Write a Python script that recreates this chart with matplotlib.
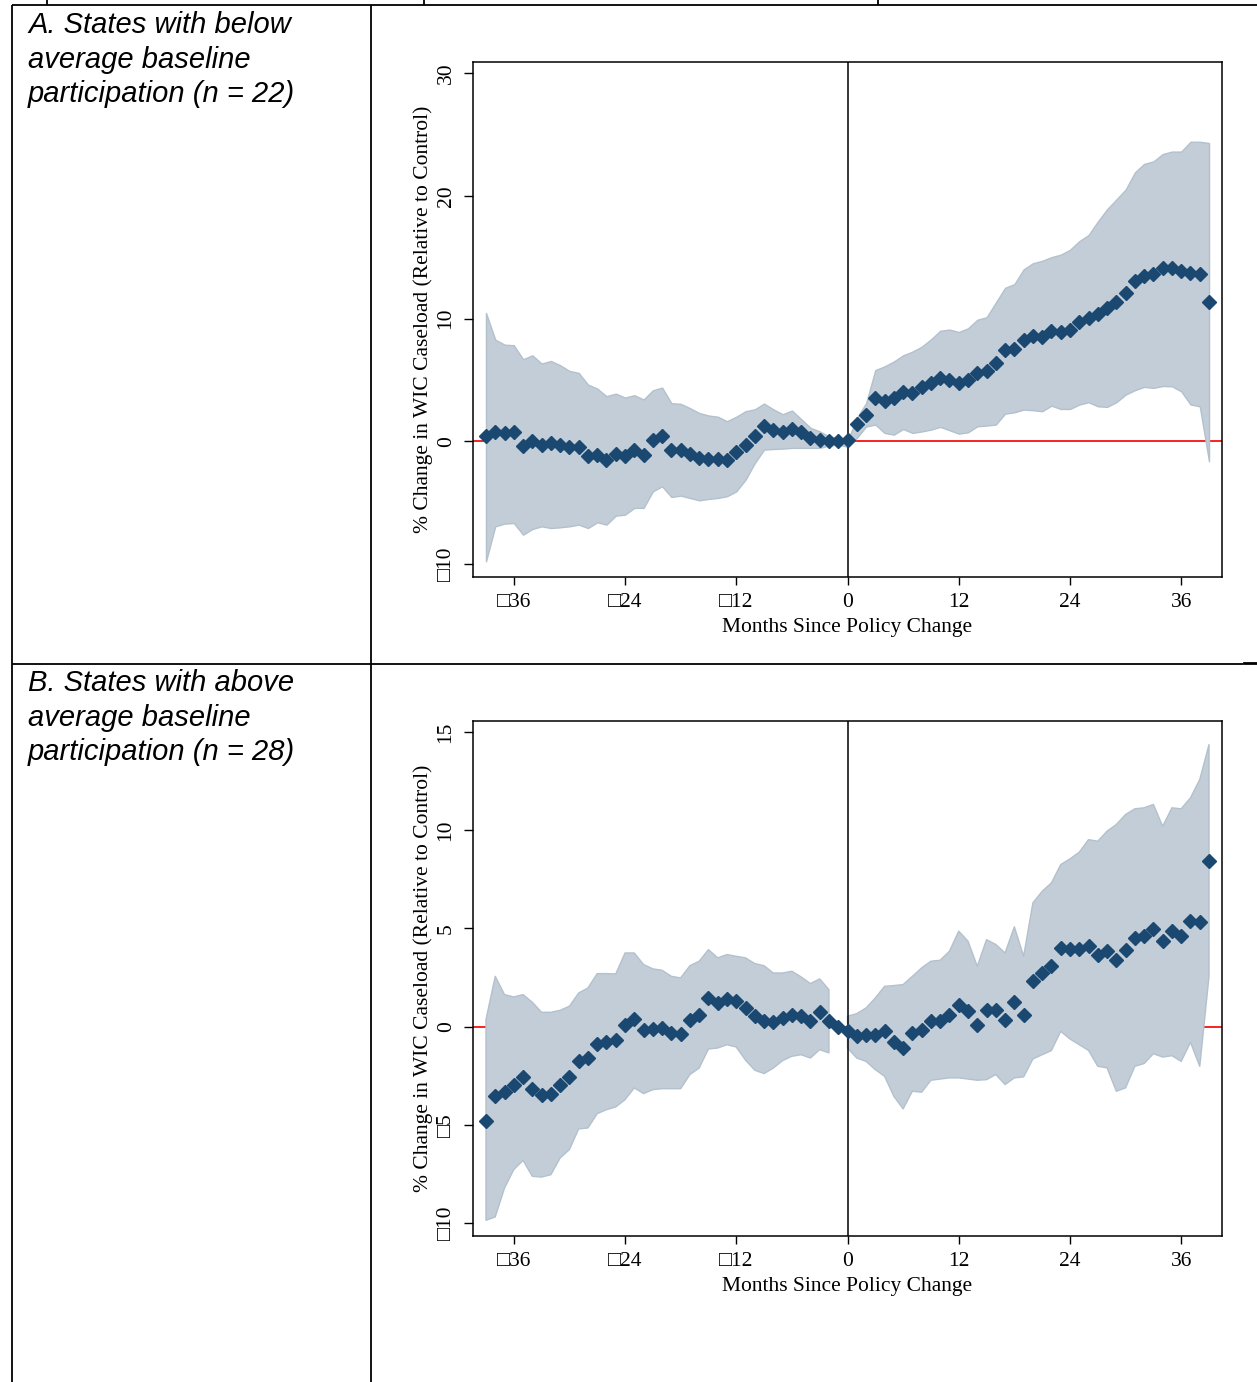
import numpy as np
import matplotlib
matplotlib.use("Agg")
import matplotlib.pyplot as plt

# months relative to the policy change
months = np.arange(-39, 40)

# Panel A: below average baseline participation (n = 22)
a_est = [0.41, 0.73, 0.68, 0.73, -0.41, 0.0, -0.27, -0.14, -0.33, -0.49,
         -0.49, -1.17, -1.09, -1.55, -1.0, -1.17, -0.73, -1.09, 0.08, 0.46,
         -0.73, -0.68, -1.0, -1.36, -1.41, -1.41, -1.49, -0.90, -0.27, 0.41,
         1.28, 0.95, 0.73, 1.0, 0.73, 0.27, 0.14, 0.05, 0.05, 0.14,
         1.44, 2.17, 3.53, 3.31, 3.53, 4.0, 3.94, 4.43, 4.76, 5.16,
         4.97, 4.76, 5.03, 5.57, 5.71, 6.39, 7.42, 7.53, 8.29, 8.56,
         8.5, 8.97, 8.89, 9.05, 9.7, 10.05, 10.33, 10.87, 11.33, 12.09,
         13.04, 13.5, 13.59, 14.13, 14.13, 13.86, 13.72, 13.59, 11.36]
a_hi = [10.45, 8.28, 7.87, 7.82, 6.68, 7.0, 6.33, 6.54, 6.19, 5.73,
        5.57, 4.62, 4.29, 3.67, 3.88, 3.56, 3.75, 3.4, 4.15, 4.37,
        3.1, 3.05, 2.7, 2.3, 2.1, 2.0, 1.63, 2.0, 2.45, 2.6,
        3.07, 2.6, 2.2, 2.5, 1.8, 1.1, 0.8, 0.4, 0.27, 0.0,
        1.9, 3.1, 5.8, 6.1, 6.5, 7.0, 7.3, 7.7, 8.3, 9.0,
        9.1, 8.9, 9.2, 9.9, 10.1, 11.3, 12.5, 12.8, 14.0, 14.5,
        14.7, 15.0, 15.2, 15.6, 16.3, 16.8, 17.9, 18.9, 19.7, 20.5,
        21.9, 22.6, 22.8, 23.4, 23.6, 23.6, 24.4, 24.4, 24.3]
a_lo = [-9.78, -6.93, -6.71, -6.66, -7.61, -7.15, -6.93, -7.07, -7.01, -6.93,
        -6.79, -7.07, -6.6, -6.79, -6.06, -5.98, -5.43, -5.43, -4.08, -3.67,
        -4.54, -4.43, -4.62, -4.81, -4.7, -4.62, -4.48, -4.08, -3.13, -1.77,
        -0.68, -0.63, -0.6, -0.54, -0.54, -0.54, -0.54, -0.35, -0.27, -0.45,
        0.27, 1.2, 1.36, 0.68, 0.54, 1.0, 0.68, 0.8, 0.95, 1.17,
        0.9, 0.62, 0.73, 1.22, 1.28, 1.36, 2.25, 2.36, 2.58, 2.53,
        2.45, 2.9, 2.63, 2.63, 2.99, 3.18, 2.85, 2.8, 3.18, 3.8,
        4.16, 4.43, 4.35, 4.5, 4.48, 4.07, 3.0, 2.85, -1.63]

# Panel B: above average baseline participation (n = 28)
b_est = [-4.82, -3.55, -3.34, -2.95, -2.58, -3.17, -3.46, -3.43, -2.95, -2.58,
         -1.77, -1.6, -0.87, -0.78, -0.7, 0.1, 0.39, -0.15, -0.1, -0.07,
         -0.32, -0.37, 0.36, 0.58, 1.46, 1.2, 1.41, 1.29, 0.95, 0.56,
         0.31, 0.22, 0.44, 0.61, 0.56, 0.27, 0.73, 0.27, 0.0, -0.24,
         -0.49, -0.41, -0.41, -0.24, -0.8, -1.09, -0.32, -0.19, 0.27, 0.27,
         0.61, 1.12, 0.78, 0.1, 0.83, 0.83, 0.36, 1.24, 0.61, 2.31,
         2.73, 3.07, 4.01, 3.96, 3.96, 4.13, 3.67, 3.84, 3.41, 3.89,
         4.52, 4.6, 4.97, 4.35, 4.89, 4.6, 5.4, 5.33, 8.45]
b_hi = [0.36, 2.56, 1.63, 1.51, 1.63, 1.24, 0.73, 0.73, 0.83, 1.04,
        1.71, 1.97, 2.7, 2.7, 2.68, 3.75, 3.75, 3.16, 2.94, 2.87,
        2.56, 2.48, 3.1, 3.33, 3.92, 3.5, 3.67, 3.58, 3.5, 3.21,
        3.1, 2.73, 2.73, 2.82, 2.53, 2.19, 2.43, 1.88, np.nan, 0.53,
        0.66, 0.95, 1.46, 2.05, 2.09, 2.14, 2.56, 2.99, 3.33, 3.38,
        3.84, 4.86, 4.35, 3.07, 4.43, 4.18, 3.75, 5.08, 3.58, 6.3,
        6.89, 7.32, 8.25, 8.54, 8.88, 9.52, 9.44, 9.95, 10.29, 10.8,
        11.09, 11.14, 11.31, 10.2, 11.14, 11.09, 11.65, 12.58, 14.36]
b_lo = [-9.86, -9.69, -8.22, -7.28, -6.81, -7.62, -7.66, -7.54, -6.69, -6.26,
        -5.21, -5.16, -4.43, -4.23, -4.09, -3.72, -3.12, -3.41, -3.21, -3.16,
        -3.16, -3.16, -2.44, -2.11, -1.14, -1.09, -0.92, -1.04, -1.71, -2.22,
        -2.39, -2.11, -1.73, -1.51, -1.43, -1.6, -1.17, -1.34, np.nan, -1.09,
        -1.6, -1.77, -2.19, -2.53, -3.55, -4.19, -3.29, -3.34, -2.73, -2.67,
        -2.61, -2.61, -2.67, -2.73, -2.7, -2.44, -2.95, -2.61, -2.56, -1.65,
        -1.43, -1.22, -0.24, -0.63, -0.92, -1.21, -2.02, -2.1, -3.29, -3.12,
        -2.02, -1.88, -1.38, -1.55, -1.48, -1.77, -0.8, -2.02, 2.56]

xticks = [-36, -24, -12, 0, 12, 24, 36]
xtick_labels = ["\u25a136", "\u25a124", "\u25a112", "0", "12", "24", "36"]
a_yticks = [-10, 0, 10, 20, 30]
a_ytick_labels = ["\u25a110", "0", "10", "20", "30"]
b_yticks = [-10, -5, 0, 5, 10, 15]
b_ytick_labels = ["\u25a110", "\u25a15", "0", "5", "10", "15"]

panel_a_text = "A. States with below\naverage baseline\nparticipation (n = 22)"
panel_b_text = "B. States with above\naverage baseline\nparticipation (n = 28)"

SERIF = ["Liberation Serif", "DejaVu Serif", "DejaVu Sans"]
W, H = 1257, 1382

fig = plt.figure(figsize=(W / 100, H / 100), dpi=100)

# table grid drawn in pixel coordinates
grid = fig.add_axes([0, 0, 1, 1], zorder=0)
grid.set_xlim(0, W)
grid.set_ylim(H, 0)
grid.axis("off")
lk = dict(color="black", lw=1.3, solid_capstyle="butt")
grid.plot([12, W], [5, 5], **lk)
grid.plot([12, 1243], [663.5, 663.5], **lk)
grid.plot([1244, W], [663, 663], color="black", lw=2.0)
grid.plot([12, 12], [5, H], **lk)
grid.plot([371, 371], [5, H], **lk)
for xx in [47, 424, 878]:
    grid.plot([xx, xx], [0, 5], **lk)

grid.text(28, 11, panel_a_text, fontsize=21, style="italic",
          family="Liberation Sans", va="top", ha="left", linespacing=1.3)
grid.text(28, 669, panel_b_text, fontsize=21, style="italic",
          family="Liberation Sans", va="top", ha="left", linespacing=1.3)


def draw_panel(rect, est, lo, hi, yticks, ylabels, ylim):
    ax = fig.add_axes(rect, zorder=1)
    ax.axhline(0, color="#f00000", lw=1.2, zorder=1)
    ax.fill_between(months, lo, hi, facecolor="#c2cdd7", edgecolor="#b3c1cd",
                    lw=1.0, zorder=2)
    ax.axvline(0, color="black", lw=1.1, zorder=3)
    ax.plot(months, est, ls="none", marker="D", ms=6.8, color="#1b4870",
            mec="#1b4870", zorder=4)
    ax.set_xlim(-40.4, 40.4)
    ax.set_ylim(*ylim)
    ax.set_xticks(xticks)
    ax.set_xticklabels(xtick_labels, fontsize=15.5, family=SERIF)
    ax.set_yticks(yticks)
    ax.set_yticklabels(ylabels, fontsize=15.5, family=SERIF, rotation=90,
                       va="center")
    ax.tick_params(axis="x", length=6, width=1.0, pad=5.5)
    ax.tick_params(axis="y", length=6.5, width=1.0, pad=6)
    for s in ax.spines.values():
        s.set_linewidth(1.1)
    ax.set_xlabel("Months Since Policy Change", fontsize=15.5, family=SERIF,
                  labelpad=4)
    ax.set_ylabel("% Change in WIC Caseload (Relative to Control)",
                  fontsize=15.5, family=SERIF)
    ax.yaxis.set_label_coords(-0.054, 0.5)
    return ax


draw_panel([473 / W, 1 - 577 / H, 749 / W, 515 / H], a_est, a_lo, a_hi,
           a_yticks, a_ytick_labels, (-11.06, 30.9))
draw_panel([473 / W, 1 - 1236 / H, 749 / W, 515 / H], b_est, b_lo, b_hi,
           b_yticks, b_ytick_labels, (-10.66, 15.56))

fig.savefig("out.png", dpi=100)
